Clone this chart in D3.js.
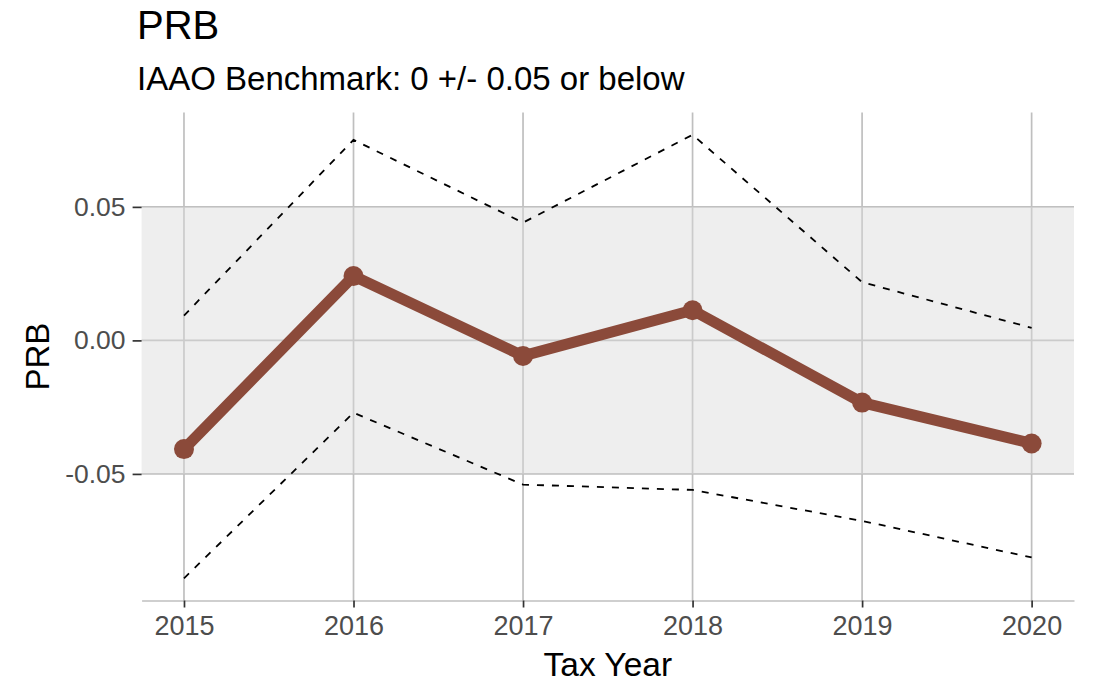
<!DOCTYPE html>
<html>
<head>
<meta charset="utf-8">
<script src="https://cdn.jsdelivr.net/npm/d3@7"></script>
<style>
  body { margin: 0; background: #fff; }
  svg { display: block; font-family: "Liberation Sans", Arial, sans-serif; }
</style>
</head>
<body>
<div id="chart"></div>
<script>
// --- Data ---
const years = [2015, 2016, 2017, 2018, 2019, 2020];
const prb = [-0.0407, 0.0241, -0.0058, 0.0113, -0.0233, -0.0386];
const upperCI = [0.0093, 0.0751, 0.0441, 0.0770, 0.0218, 0.0047];
const lowerCI = [-0.0891, -0.0271, -0.0540, -0.0560, -0.0676, -0.0813];
const yTicks = [-0.05, 0, 0.05];
const benchmark = [-0.05, 0.05];

const width = 1094, height = 683;
const margin = { top: 112.6, right: 20, bottom: 82.5, left: 141.6 };
const innerW = width - margin.left - margin.right;
const innerH = height - margin.top - margin.bottom;

const svg = d3.select('#chart').append('svg')
  .attr('width', width)
  .attr('height', height);

// --- Scales (ggplot-style 5% expansion) ---
const xPad = (d3.max(years) - d3.min(years)) * 0.05;
const x = d3.scaleLinear()
  .domain([d3.min(years) - xPad, d3.max(years) + xPad])
  .range([margin.left, margin.left + innerW]);

const yMin = d3.min(lowerCI), yMax = d3.max(upperCI);
const yPad = (yMax - yMin) * 0.05;
const y = d3.scaleLinear()
  .domain([yMin - yPad, yMax + yPad])
  .range([margin.top + innerH, margin.top]);

const gridColor = '#bfbfbf';
const fontFam = '"Liberation Sans", Arial, sans-serif';

// gridlines
svg.append('g')
  .selectAll('line.hg')
  .data(yTicks)
  .join('line')
  .attr('x1', x.range()[0]).attr('x2', x.range()[1])
  .attr('y1', d => y(d)).attr('y2', d => y(d))
  .attr('stroke', gridColor).attr('stroke-width', 1.7);

svg.append('g')
  .selectAll('line.vg')
  .data(years)
  .join('line')
  .attr('x1', d => x(d)).attr('x2', d => x(d))
  .attr('y1', y.range()[0]).attr('y2', y.range()[1])
  .attr('stroke', gridColor).attr('stroke-width', 1.7);

// benchmark band (semi-transparent so grid shows through)
svg.append('rect')
  .attr('x', x.range()[0])
  .attr('width', x.range()[1] - x.range()[0])
  .attr('y', y(benchmark[1]))
  .attr('height', y(benchmark[0]) - y(benchmark[1]))
  .attr('fill', '#d9d9d9')
  .attr('fill-opacity', 0.45);

// --- Axes ---
const xAxis = svg.append('g')
  .attr('transform', `translate(0,${y.range()[0]})`)
  .call(d3.axisBottom(x).tickValues(years).tickFormat(d3.format('d'))
    .tickSize(7).tickSizeOuter(0).tickPadding(8));
xAxis.select('.domain').attr('stroke', gridColor).attr('stroke-width', 1.7);
xAxis.selectAll('.tick line').attr('stroke', '#333').attr('stroke-width', 1.7);
xAxis.selectAll('.tick text').attr('fill', '#4d4d4d').attr('font-size', 27)
  .attr('font-family', fontFam);

const yAxis = svg.append('g')
  .attr('transform', `translate(${x.range()[0]},0)`)
  .call(d3.axisLeft(y).tickValues(yTicks).tickFormat(d3.format('.2f')).tickSize(9).tickPadding(7));
yAxis.select('.domain').remove();
yAxis.selectAll('.tick line').attr('stroke', '#333').attr('stroke-width', 1.7);
yAxis.selectAll('.tick text').attr('fill', '#4d4d4d').attr('font-size', 26.5)
  .attr('font-family', fontFam)
  .text(d => d < 0 ? '-' + d3.format('.2f')(-d) : d3.format('.2f')(d));

// --- Lines ---
const line = d3.line()
  .x(d => x(d[0]))
  .y(d => y(d[1]));

[upperCI, lowerCI].forEach(series => {
  svg.append('path')
    .datum(d3.zip(years, series))
    .attr('d', line)
    .attr('fill', 'none')
    .attr('stroke', '#000')
    .attr('stroke-width', 1.8)
    .attr('stroke-dasharray', '7,8');
});

const brown = '#8b4a3a';
svg.append('path')
  .datum(d3.zip(years, prb))
  .attr('d', line)
  .attr('fill', 'none')
  .attr('stroke', brown)
  .attr('stroke-width', 11)
  .attr('stroke-linejoin', 'round');

svg.append('g')
  .selectAll('circle')
  .data(d3.zip(years, prb))
  .join('circle')
  .attr('cx', d => x(d[0]))
  .attr('cy', d => y(d[1]))
  .attr('r', 10)
  .attr('fill', brown);

// --- Titles ---
svg.append('text')
  .attr('x', 137).attr('y', 39)
  .attr('font-size', 40)
  .attr('fill', '#000')
  .text('PRB');

svg.append('text')
  .attr('x', 137).attr('y', 90)
  .attr('font-size', 33)
  .attr('fill', '#000')
  .text('IAAO Benchmark: 0 +/- 0.05 or below');

svg.append('text')
  .attr('x', (x.range()[0] + x.range()[1]) / 2).attr('y', 676)
  .attr('text-anchor', 'middle')
  .attr('font-size', 33.5)
  .text('Tax Year');

svg.append('text')
  .attr('transform', `translate(49,${(y.range()[0] + y.range()[1]) / 2}) rotate(-90)`)
  .attr('text-anchor', 'middle')
  .attr('font-size', 33)
  .text('PRB');
</script>
</body>
</html>
